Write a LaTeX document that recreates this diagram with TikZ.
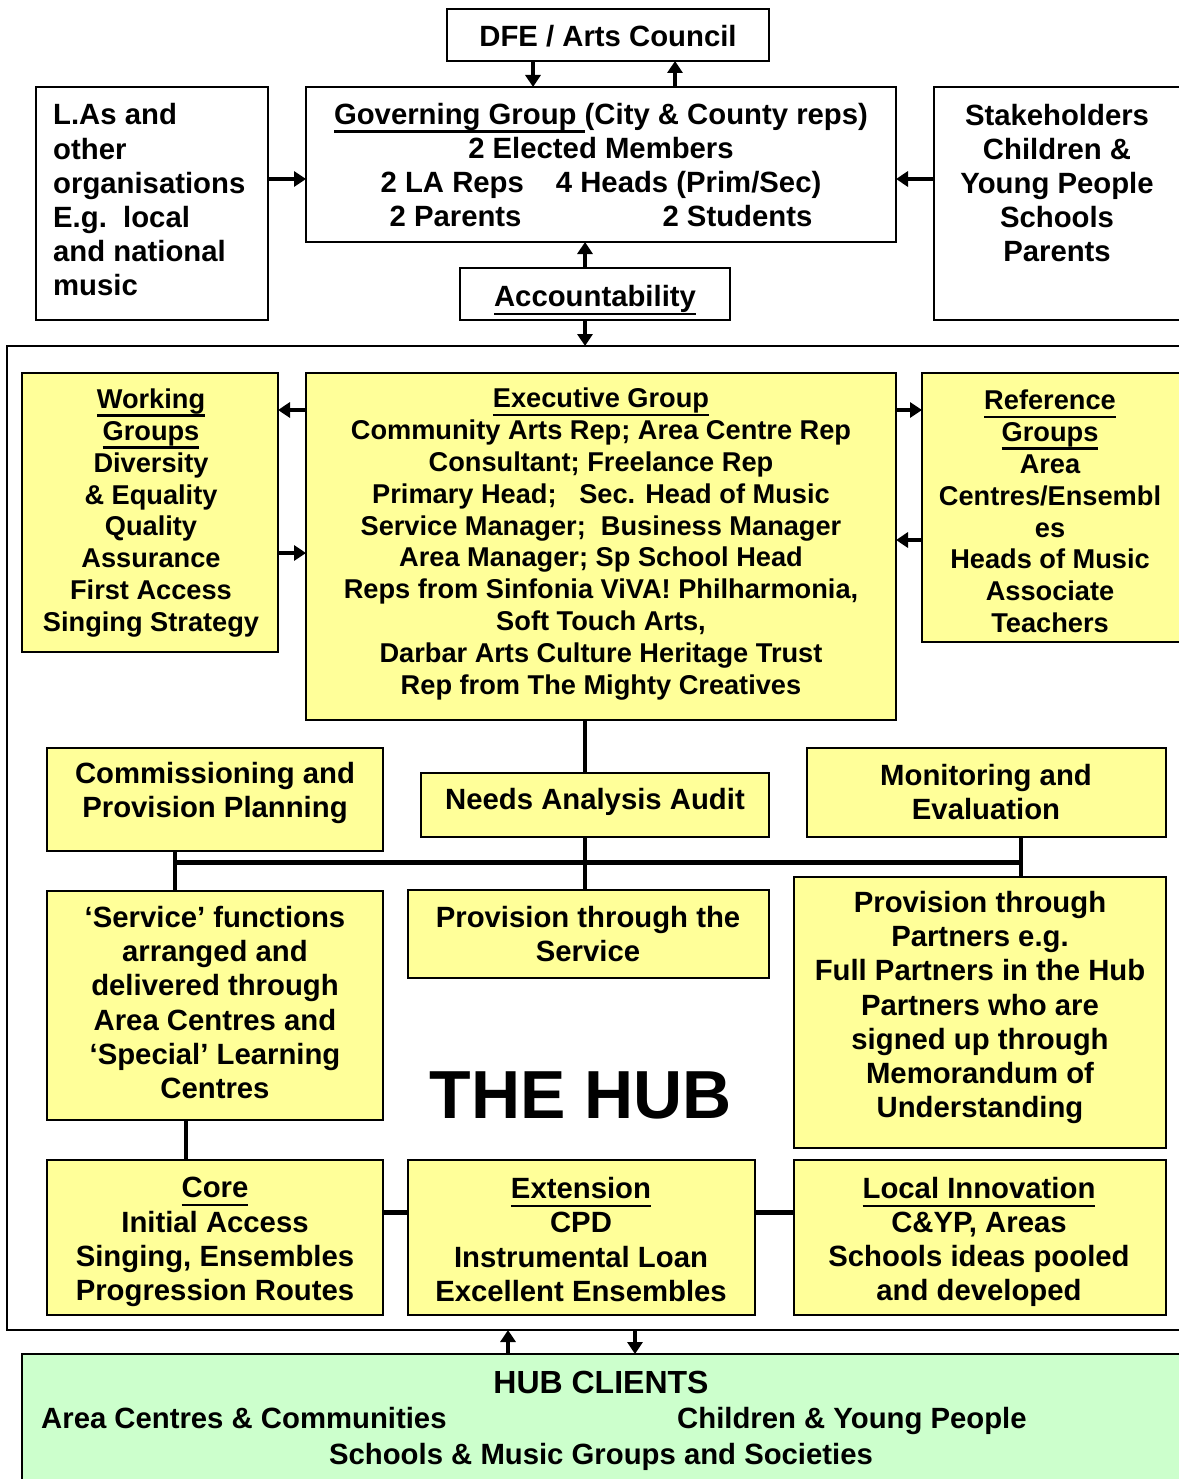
\documentclass[tikz,border=0pt]{standalone}
\usepackage{fontspec}
\setmainfont{Liberation Sans}
\usetikzlibrary{arrows.meta}
\definecolor{boxyellow}{HTML}{FFFF99}
\definecolor{clientgreen}{HTML}{CCFFCC}
\newcommand{\ulb}[1]{\vtop{\hbox{#1\vphantom{gy}}\hrule height 2.4pt}}
\begin{document}
\begin{tikzpicture}[x=1pt,y=-1pt,
  box/.style={draw, line width=2.2pt, inner sep=0pt, outer sep=0pt},
  ybox/.style={box, fill=boxyellow},
  txt/.style={inner sep=0pt, align=center, font=\bfseries\fontsize{29.3}{34.2}\selectfont},
  txtb/.style={inner sep=0pt, align=center, font=\bfseries\fontsize{27.2}{31.8}\selectfont},
  arr/.style={line width=3.4pt, -{Triangle[length=12pt,width=15pt]}},
  conn/.style={line width=3.2pt},
  thickconn/.style={line width=5pt}]
\useasboundingbox (0,0) rectangle (1178,1479);
\fill[white] (0,0) rectangle (1178,1479);

% hub frame
\node[box, minimum width=1183pt, minimum height=984pt] (hub) at (598.5,838) {};

% top boxes
\node[box, minimum width=322pt, minimum height=52pt] (dfe) at (608,35) {};
\node[box, minimum width=590pt, minimum height=155pt] (gov) at (601,164.5) {};
\node[box, minimum width=232pt, minimum height=233pt] (las) at (152,203.5) {};
\node[box, minimum width=256pt, minimum height=233pt] (stk) at (1062,203.5) {};
\node[box, minimum width=270pt, minimum height=52pt] (acc) at (595,294) {};

\node[txt] (dfe-t) at (608,36) {DFE / Arts Council};
\node[txt] (gov-t) at (601,165) {\ulb{Governing Group }(City \& County reps)\\2 Elected Members\\2 LA Reps\hspace{32pt}4 Heads (Prim/Sec)\\2 Parents\hspace{141pt}2 Students};
\node[txt, align=left, anchor=west] (las-t) at (53,200) {L.As and\\other\\organisations\\E.g.\ \ local\\and national\\music};
\node[txt] (stk-t) at (1057,183) {Stakeholders\\Children \&\\Young People\\Schools\\Parents};
\node[txt] (acc-t) at (595,300) {\ulb{Accountability}};

% executive level
\node[ybox, minimum width=256pt, minimum height=279pt] (wg) at (150,512.5) {};
\node[ybox, minimum width=590pt, minimum height=347pt] (exec) at (601,546.5) {};
\node[ybox, minimum width=268pt, minimum height=269pt] (ref) at (1056,507.5) {};

\node[txtb] (wg-t) at (151,513) {\ulb{Working}\\\ulb{Groups}\\Diversity\\\& Equality\\Quality\\Assurance\\First Access\\Singing Strategy};
\node[txtb] (exec-t) at (601,544) {\ulb{Executive Group}\\Community Arts Rep; Area Centre Rep\\Consultant; Freelance Rep\\Primary Head;\ \ \ Sec. Head of Music\\Service Manager;\ \ Business Manager\\Area Manager; Sp School Head\\Reps from Sinfonia ViVA! Philharmonia,\\Soft Touch Arts,\\Darbar Arts Culture Heritage Trust\\Rep from The Mighty Creatives};
\node[txtb] (ref-t) at (1050,511.5) {\ulb{Reference}\\\ulb{Groups}\\Area\\Centres/Ensembl\\es\\Heads of Music\\Associate\\Teachers};

% middle level
\node[ybox, minimum width=336pt, minimum height=103pt] (comm) at (215,799.5) {};
\node[ybox, minimum width=348pt, minimum height=64pt] (needs) at (595,805) {};
\node[ybox, minimum width=359pt, minimum height=89pt] (mon) at (986.5,792.5) {};
\node[txt] (comm-t) at (215,793) {Commissioning and\\Provision Planning};
\node[txt] (needs-t) at (595,802) {Needs Analysis Audit};
\node[txt] (mon-t) at (986,792) {Monitoring and\\Evaluation};

\node[ybox, minimum width=336pt, minimum height=229pt] (serv) at (215,1005.5) {};
\node[ybox, minimum width=361pt, minimum height=88pt] (pserv) at (588.5,934) {};
\node[ybox, minimum width=372pt, minimum height=271pt] (part) at (980,1012.5) {};
\node[txt] (serv-t) at (215,1002.5) {‘Service’ functions\\arranged and\\delivered through\\Area Centres and\\‘Special’ Learning\\Centres};
\node[txt] (pserv-t) at (588,934) {Provision through the\\Service};
\node[txt] (part-t) at (980,1007.5) {Provision through\\Partners e.g.\\Full Partners in the Hub\\Partners who are\\signed up through\\Memorandum of\\Understanding};

\node[inner sep=0pt, font=\bfseries\fontsize{68}{72}\selectfont] (hubtitle) at (581,1095) {THE HUB};

% bottom level
\node[ybox, minimum width=336pt, minimum height=155pt] (core) at (215,1237.5) {};
\node[ybox, minimum width=347pt, minimum height=155pt] (ext) at (581.5,1237.5) {};
\node[ybox, minimum width=372pt, minimum height=155pt] (loc) at (980,1237.5) {};
\node[txt] (core-t) at (215,1242) {\ulb{Core}\\Initial Access\\Singing, Ensembles\\Progression Routes};
\node[txt] (ext-t) at (581,1239.5) {\ulb{Extension}\\CPD\\Instrumental Loan\\Excellent Ensembles};
\node[txt] (loc-t) at (979,1242) {\ulb{Local Innovation}\\C\&YP, Areas\\Schools ideas pooled\\and developed};

% clients
\node[box, fill=clientgreen, minimum width=1168pt, minimum height=136pt] (cli) at (606,1422) {};
\node[inner sep=0pt, anchor=base, font=\bfseries\fontsize{32}{36}\selectfont] (cli-t1) at (601,1393.5) {HUB CLIENTS};
\node[txt, anchor=base west] (cli-t2) at (41,1428.5) {Area Centres \& Communities};
\node[txt, anchor=base west] (cli-t3) at (677,1428.5) {Children \& Young People};
\node[txt, anchor=base] (cli-t4) at (601,1464.5) {Schools \& Music Groups and Societies};

% connectors
\draw[arr] (533,0 |- dfe.south) -- (533,0 |- gov.north);
\draw[arr] (675,0 |- gov.north) -- (675,0 |- dfe.south);
\draw[arr] (las.east |- 0,179) -- (gov.west |- 0,179);
\draw[arr] (stk.west |- 0,179) -- (gov.east |- 0,179);
\draw[arr] (585,0 |- acc.north) -- (585,0 |- gov.south);
\draw[arr] (585,0 |- acc.south) -- (585,0 |- hub.north);

\draw[arr] (exec.west |- 0,410) -- (wg.east |- 0,410);
\draw[arr] (wg.east |- 0,553) -- (exec.west |- 0,553);
\draw[arr] (exec.east |- 0,410) -- (ref.west |- 0,410);
\draw[arr] (ref.west |- 0,540) -- (exec.east |- 0,540);

\draw[conn] (585,0 |- exec.south) -- (585,0 |- needs.north);
\draw[conn] (585,0 |- needs.south) -- (585,0 |- pserv.north);
\draw[thickconn] (175,862) coordinate (barL) -- (1021,862) coordinate (barR);
\draw[conn] (175,0 |- comm.south) -- (175,0 |- serv.north);
\draw[conn] (1021,0 |- mon.south) -- (1021,0 |- part.north);
\draw[conn] (186,0 |- serv.south) -- (186,0 |- core.north);
\draw[thickconn] (core.east |- 0,1212) -- (ext.west |- 0,1212);
\draw[thickconn] (ext.east |- 0,1212) -- (loc.west |- 0,1212);

\draw[arr] (508,0 |- cli.north) -- (508,0 |- hub.south);
\draw[arr] (635,0 |- hub.south) -- (635,0 |- cli.north);
\end{tikzpicture}
\end{document}
